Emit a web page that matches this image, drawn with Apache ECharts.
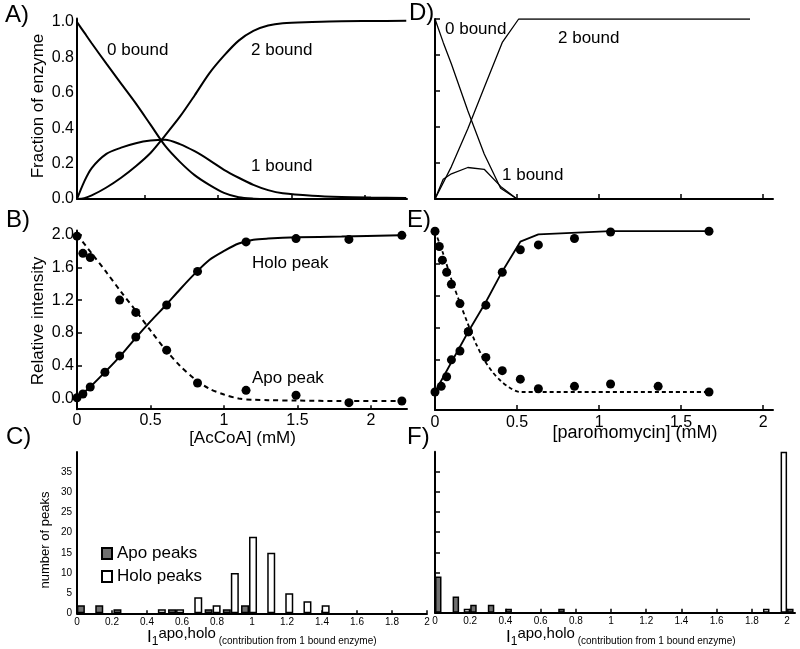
<!DOCTYPE html>
<html>
<head>
<meta charset="utf-8">
<script src="https://cdn.jsdelivr.net/npm/echarts@6/dist/echarts.min.js"></script>
<style>html,body{margin:0;background:#fff}#main{width:800px;height:649px}</style>
</head>
<body>
<div id="main"></div>
<script>
// A) fraction of enzyme vs [AcCoA]
var aX    = [0, 0.05, 0.1, 0.2, 0.3, 0.4, 0.5, 0.6, 0.7, 0.8, 0.9, 1.0, 1.1, 1.2, 1.3, 1.4, 1.6, 1.8, 2.0, 2.24];
var aZero = [1.0, 0.94, 0.88, 0.765, 0.652, 0.54, 0.42, 0.3, 0.21, 0.135, 0.08, 0.035, 0.01, 0.002, 0, 0, 0, 0, 0, 0];
var aOne  = [0, 0.1, 0.175, 0.255, 0.29, 0.315, 0.33, 0.335, 0.31, 0.27, 0.22, 0.165, 0.12, 0.08, 0.05, 0.032, 0.018, 0.011, 0.008, 0.006];
var aTwo  = [0, 0.005, 0.02, 0.065, 0.12, 0.185, 0.26, 0.36, 0.465, 0.585, 0.71, 0.81, 0.895, 0.95, 0.98, 0.993, 1.0, 1.005, 1.006, 1.007];

// B) relative intensity vs [AcCoA]
var bHoloX = [0, 0.04, 0.09, 0.19, 0.29, 0.40, 0.61, 0.82, 1.15, 1.49, 1.85, 2.21];
var bHoloY = [0.01, 0.055, 0.14, 0.32, 0.52, 0.75, 1.14, 1.55, 1.91, 1.95, 1.94, 1.99];
var bApoX  = [0, 0.04, 0.09, 0.29, 0.40, 0.61, 0.82, 1.15, 1.49, 1.85, 2.21];
var bApoY  = [1.98, 1.77, 1.72, 1.2, 1.05, 0.59, 0.19, 0.10, 0.04, -0.05, -0.03];
var bFitX     = [0, 0.1, 0.2, 0.3, 0.4, 0.5, 0.6, 0.7, 0.8, 0.9, 1.0, 1.1, 1.2, 1.3, 1.5, 1.8, 2.2];
var bHoloFit  = [0, 0.16, 0.34, 0.53, 0.74, 0.94, 1.13, 1.33, 1.52, 1.69, 1.8, 1.89, 1.935, 1.95, 1.965, 1.975, 1.99];
var bApoFit   = [2.0, 1.77, 1.54, 1.3, 1.07, 0.83, 0.6, 0.4, 0.24, 0.12, 0.05, 0.0, -0.015, -0.02, -0.025, -0.03, -0.03];

// C) histogram, AcCoA
var cBins = [0.045, 0.15, 0.254, 0.358, 0.462, 0.566, 0.67, 0.775, 0.879, 0.983, 1.087, 1.19, 1.294, 1.398];
var cApo  = [2, 2, 1, 0, 0, 1, 0, 1, 1, 2, 0, 0, 0, 0];
var cHolo = [0, 0, 0, 0, 1, 1, 4, 2, 10, 19, 15, 5, 3, 2];

// D) fraction of enzyme vs [paromomycin]
var dX     = [0, 0.05, 0.1, 0.2, 0.3, 0.4, 0.5];
var dZero  = [1.0, 0.87, 0.75, 0.49, 0.25, 0.06, 0.0];
var dOne   = [0, 0.11, 0.14, 0.175, 0.165, 0.07, 0.0];
var dTwoX  = [0, 0.1, 0.2, 0.3, 0.41, 0.51, 1.92];
var dTwoY  = [0, 0.18, 0.39, 0.62, 0.87, 1.0, 1.0];

// E) relative intensity vs [paromomycin]
var eHoloX = [0, 0.038, 0.071, 0.10, 0.152, 0.203, 0.31, 0.41, 0.52, 0.63, 0.85, 1.07, 1.67];
var eHoloY = [0.0, 0.07, 0.19, 0.40, 0.51, 0.75, 1.08, 1.49, 1.77, 1.83, 1.91, 1.99, 2.0];
var eApoX  = [0, 0.026, 0.045, 0.071, 0.10, 0.152, 0.203, 0.31, 0.41, 0.52, 0.63, 0.85, 1.07, 1.36, 1.67];
var eApoY  = [2.0, 1.81, 1.64, 1.49, 1.34, 1.10, 0.75, 0.43, 0.265, 0.16, 0.04, 0.07, 0.10, 0.07, 0.0];
var eHoloFitX = [0, 0.2, 0.31, 0.41, 0.52, 0.63, 1.07, 1.67];
var eHoloFitY = [0, 0.74, 1.12, 1.5, 1.87, 1.96, 2.0, 2.0];
var eApoFitX  = [0, 0.05, 0.1, 0.15, 0.2, 0.25, 0.3, 0.35, 0.4, 0.45, 0.52, 1.67];
var eApoFitY  = [2.0, 1.72, 1.4, 1.12, 0.85, 0.6, 0.4, 0.25, 0.14, 0.06, 0.0, 0.0];

// F) histogram, paromomycin
var fBins = [0, 0.1, 0.2, 0.3, 0.4, 0.7, 1.9, 2.0];
var fApo  = [9, 4, 2, 2, 1, 1, 0, 1];
var fHolo = [0, 0, 1, 0, 0, 0, 1, 40];

// tick labels
var abYLabels = [0, 0.2, 0.4, 0.6, 0.8, 1.0];
var bYLabels  = [0, 0.4, 0.8, 1.2, 1.6, 2.0];
var concLabels = [0, 0.5, 1, 1.5, 2];
var aXTicks   = [0.46, 0.96, 1.46, 1.96];
var histXLabels = [0, 0.2, 0.4, 0.6, 0.8, 1, 1.2, 1.4, 1.6, 1.8, 2];
var histYLabels = [0, 5, 10, 15, 20, 25, 30, 35];
var dYTicks = [0.2, 0.4, 0.6, 0.8, 1.0];
var eYTicks = [0.4, 0.8, 1.2, 1.6];

var FONT = 'Liberation Sans, Arial, sans-serif';

function zip(xs, ys) {
    var out = [];
    for (var i = 0; i < xs.length; i++) out.push([xs[i], ys[i]]);
    return out;
}
function bars(bins, counts) {
    var out = [];
    for (var i = 0; i < bins.length; i++) if (counts[i] > 0) out.push([bins[i], counts[i]]);
    return out;
}
function num(v) { return String(Math.round(v * 10) / 10); }

function xAx(idx, min, max, o) {
    o = o || {};
    return {
        type: 'value', gridIndex: idx, min: min, max: max,
        axisLine: { onZero: false, lineStyle: { color: '#000', width: 2 } },
        splitLine: { show: false },
        axisTick: o.ticks ? { inside: true, length: o.tickLen || 4, customValues: o.ticks, lineStyle: { color: '#000', width: 1.5 } } : { show: false },
        axisLabel: o.labels ? { customValues: o.labels, formatter: num, color: '#000', fontFamily: FONT, fontSize: o.fs || 16, margin: o.margin || 3 } : { show: false }
    };
}
function yAx(idx, min, max, o) {
    o = o || {};
    return {
        type: 'value', gridIndex: idx, min: min, max: max,
        axisLine: { onZero: false, lineStyle: { color: '#000', width: 2 } },
        splitLine: { show: false },
        axisTick: o.ticks ? { inside: true, length: o.tickLen || 5, customValues: o.ticks, lineStyle: { color: '#000', width: 1.5 } } : { show: false },
        axisLabel: o.labels ? { customValues: o.labels, formatter: o.fmt || num, color: '#000', fontFamily: FONT, fontSize: o.fs || 16, margin: o.margin || 3 } : { show: false }
    };
}
function line(idx, data, o) {
    o = o || {};
    return {
        type: 'line', xAxisIndex: idx, yAxisIndex: idx, data: data,
        showSymbol: false, smooth: o.smooth || false, silent: true,
        lineStyle: { color: '#000', width: o.width || 2, type: o.dash || 'solid' }, z: 3
    };
}
function dots(idx, data) {
    return {
        type: 'scatter', xAxisIndex: idx, yAxisIndex: idx, data: data,
        symbol: 'circle', symbolSize: 9, itemStyle: { color: '#000', opacity: 1 }, z: 4, clip: false
    };
}
function bar(idx, name, data, fill, w) {
    return {
        type: 'bar', name: name, xAxisIndex: idx, yAxisIndex: idx, data: data,
        barWidth: w, barGap: '0%',
        itemStyle: { color: fill, borderColor: '#000', borderWidth: 1.5 }
    };
}
function txt(x, y, s, size, o) {
    o = o || {};
    return {
        type: 'text', x: x, y: y, rotation: o.rot || 0, z: 10,
        style: {
            text: s, fill: '#000', font: size + 'px ' + FONT,
            textAlign: o.align || 'left', align: o.align || 'left',
            textVerticalAlign: 'middle', verticalAlign: 'middle', rich: o.rich
        }
    };
}
var subRich = {
    i: { fontSize: 17, fontFamily: FONT, lineHeight: 22, verticalAlign: 'middle' },
    s: { fontSize: 12, fontFamily: FONT, verticalAlign: 'bottom' },
    p: { fontSize: 15, fontFamily: FONT, verticalAlign: 'top' },
    c: { fontSize: 10, fontFamily: FONT, verticalAlign: 'bottom', padding: [0, 0, 2, 0] }
};
var histName = '{i|I}{s|1}{p|apo,holo}{c| (contribution from 1 bound enzyme)}';

var myChart = echarts.init(document.getElementById('main'));
var option = {
    animation: false,
    backgroundColor: '#fff',
    grid: [
        { left: 77, top: 18.5, width: 330, height: 180.5, outerBoundsMode: 'none' },
        { left: 77, top: 230.4, width: 330, height: 178.8, outerBoundsMode: 'none' },
        { left: 77, top: 452, width: 350, height: 161.3, outerBoundsMode: 'none' },
        { left: 435, top: 19, width: 338, height: 180, outerBoundsMode: 'none' },
        { left: 435, top: 228, width: 338, height: 182, outerBoundsMode: 'none' },
        { left: 435, top: 451.7, width: 360, height: 161, outerBoundsMode: 'none' }
    ],
    xAxis: [
        xAx(0, 0, 2.245, { ticks: aXTicks }),
        xAx(1, 0, 2.245, { ticks: concLabels.slice(1), labels: concLabels }),
        xAx(2, 0, 2, { ticks: histXLabels, tickLen: 3, labels: histXLabels, fs: 10, margin: 4 }),
        xAx(3, 0, 2.06, { ticks: concLabels.slice(1), tickLen: 5 }),
        xAx(4, 0, 2.06, { ticks: concLabels.slice(1), tickLen: 5, labels: concLabels, margin: 5 }),
        xAx(5, 0, 2.045, { ticks: histXLabels, tickLen: 4, labels: histXLabels, fs: 10, margin: 4 })
    ],
    yAxis: [
        yAx(0, 0, 1.02, { labels: abYLabels, fmt: function (v) { return v.toFixed(1); } }),
        yAx(1, -0.13, 2.05, { ticks: bYLabels.slice(1), labels: bYLabels, fmt: function (v) { return v.toFixed(1); } }),
        yAx(2, 0, 40, { labels: histYLabels, fs: 10, margin: 5 }),
        yAx(3, 0, 1, { ticks: dYTicks }),
        yAx(4, -0.224, 2.04, { ticks: eYTicks }),
        yAx(5, 0, 40, { ticks: histYLabels.slice(1) })
    ],
    legend: {
        orient: 'vertical', left: 96, top: 540, itemWidth: 10, itemHeight: 11, itemGap: 6,
        icon: 'rect', selectedMode: false,
        textStyle: { fontSize: 17, fontFamily: FONT, color: '#000' },
        data: ['Apo peaks', 'Holo peaks']
    },
    series: [
        line(0, zip(aX, aZero), { smooth: 0.3 }),
        line(0, zip(aX, aOne), { smooth: 0.3 }),
        line(0, zip(aX, aTwo), { smooth: 0.3 }),

        line(1, zip(bFitX, bHoloFit), { smooth: 0.3 }),
        line(1, zip(bFitX, bApoFit), { smooth: 0.3, dash: [5, 4] }),
        dots(1, zip(bHoloX, bHoloY)),
        dots(1, zip(bApoX, bApoY)),

        bar(2, 'Apo peaks', bars(cBins, cApo), '#707070', 8),
        bar(2, 'Holo peaks', bars(cBins, cHolo), '#fff', 8),

        line(3, zip(dX, dZero), { width: 1.3 }),
        line(3, zip(dX, dOne), { width: 1.3 }),
        line(3, zip(dTwoX, dTwoY), { width: 1.3 }),

        line(4, zip(eHoloFitX, eHoloFitY), { width: 1.8 }),
        line(4, zip(eApoFitX, eApoFitY), { smooth: 0.3, width: 1.8, dash: [4, 3] }),
        dots(4, zip(eHoloX, eHoloY)),
        dots(4, zip(eApoX, eApoY)),

        bar(5, 'Holo (F)', bars(fBins, fHolo), '#fff', 6.5),
        bar(5, 'Apo (F)', bars(fBins, fApo), '#707070', 6.5)
    ],
    graphic: [
        txt(5, 15, 'A)', 24), txt(6, 220, 'B)', 24), txt(6, 437, 'C)', 24),
        txt(409, 13, 'D)', 24), txt(407, 220, 'E)', 24), txt(407, 437, 'F)', 24),

        txt(107, 50, '0 bound', 17), txt(251, 50, '2 bound', 17), txt(251, 166, '1 bound', 17),
        txt(445, 29, '0 bound', 17), txt(558, 38, '2 bound', 17), txt(502, 175, '1 bound', 17),
        txt(252, 263, 'Holo peak', 17), txt(252, 378, 'Apo peak', 17),

        txt(38, 106, 'Fraction of enzyme', 17, { align: 'center', rot: Math.PI / 2 }),
        txt(38, 321, 'Relative intensity', 17, { align: 'center', rot: Math.PI / 2 }),
        txt(45, 540, 'number of peaks', 13, { align: 'center', rot: Math.PI / 2 }),
        txt(242.5, 438, '[AcCoA] (mM)', 17, { align: 'center' }),
        txt(635, 433, '[paromomycin] (mM)', 18, { align: 'center' }),
        txt(147, 637, histName, 17, { rich: subRich }),
        txt(506, 637, histName, 17, { rich: subRich })
    ]
};
myChart.setOption(option);
</script>
</body>
</html>
